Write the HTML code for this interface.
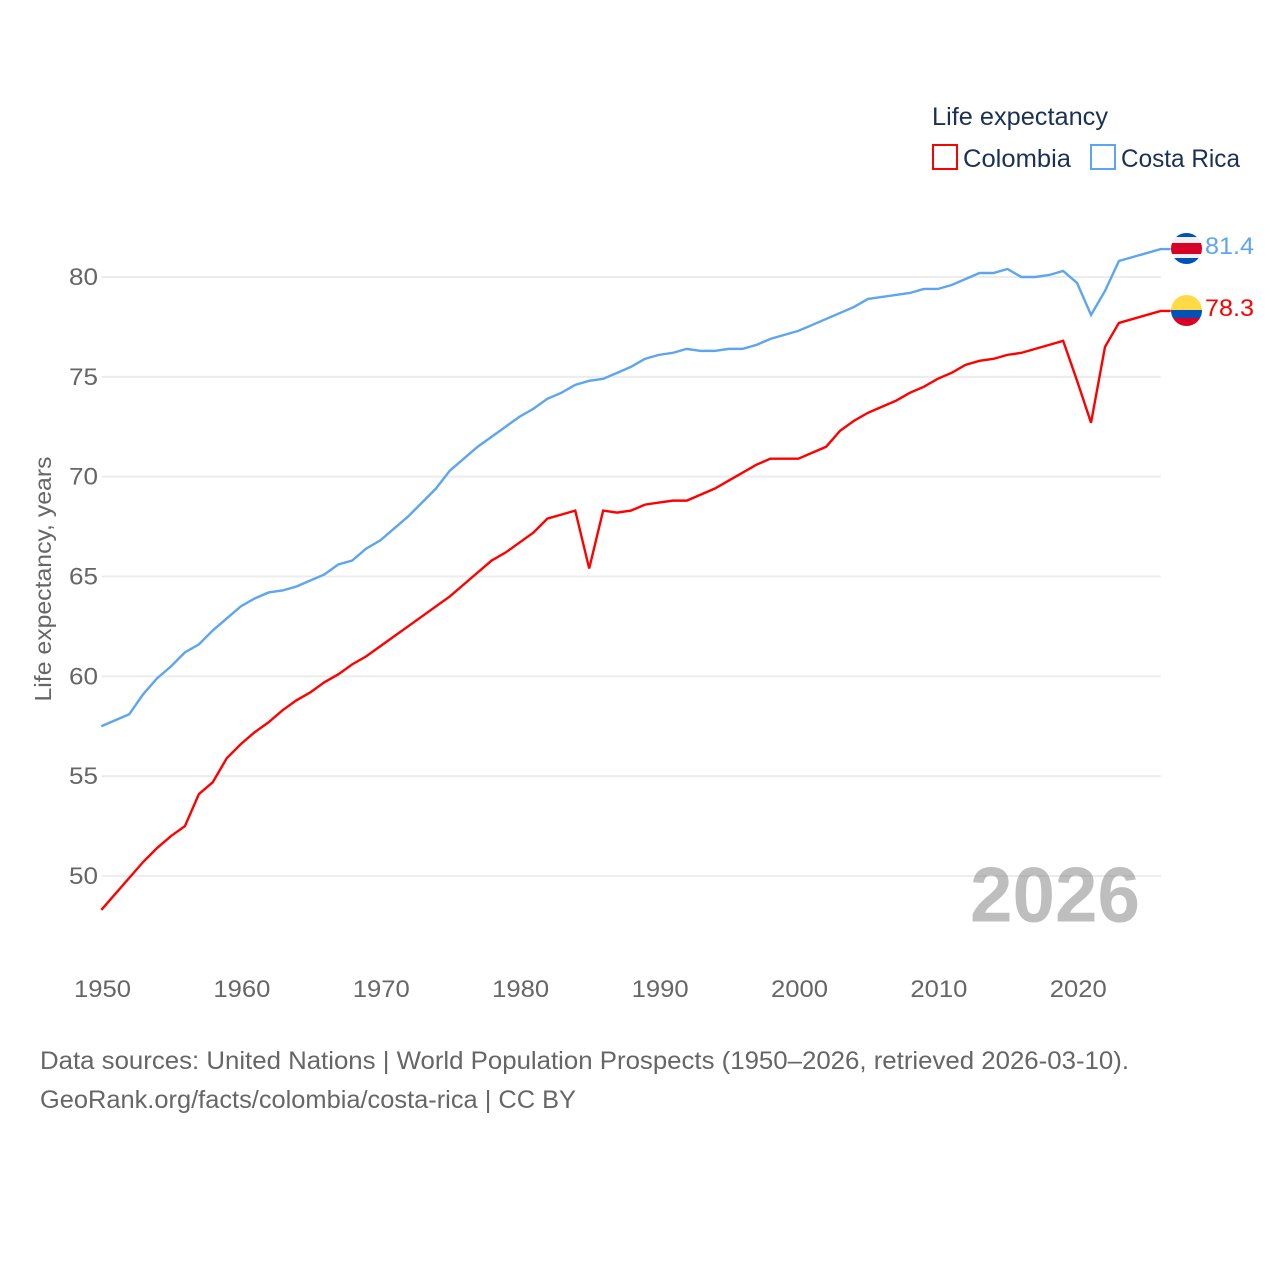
<!DOCTYPE html>
<html lang="en">
<head>
<meta charset="utf-8">
<title>Life expectancy: Colombia and Costa Rica</title>
<style>
html,body{margin:0;padding:0;background:#fff;width:1280px;height:1280px;overflow:hidden}
svg{display:block;font-family:"Liberation Sans",sans-serif}
</style>
</head>
<body>
<svg id="chart" xmlns="http://www.w3.org/2000/svg" width="1280" height="1280" viewBox="0 0 1280 1280">
  <rect width="1280" height="1280" fill="#fff"/>
  <g id="grid"></g>
  <g id="yticks"></g>
  <g id="xticks"></g>
  <text transform="translate(51,579) rotate(-90)" text-anchor="middle" font-size="23" fill="#666" textLength="245" lengthAdjust="spacingAndGlyphs">Life expectancy, years</text>
  <text x="970" y="921.5" font-size="78" font-weight="700" fill="#888" fill-opacity="0.55" textLength="170" lengthAdjust="spacingAndGlyphs">2026</text>
  <g id="series"></g>

  <g>
    <text x="932" y="125" font-size="25" fill="#1a3055" textLength="176" lengthAdjust="spacingAndGlyphs">Life expectancy</text>
    <g>
      <rect x="933" y="145" width="24" height="24" fill="#fff" stroke="#ff0000" stroke-width="2"/>
      <text x="963" y="167" font-size="25" fill="#1a3055" textLength="108" lengthAdjust="spacingAndGlyphs">Colombia</text>
    </g>
    <g>
      <rect x="1091" y="145" width="24" height="24" fill="#fff" stroke="#5da5ed" stroke-width="2"/>
      <text x="1121" y="167" font-size="25" fill="#1a3055" textLength="119" lengthAdjust="spacingAndGlyphs">Costa Rica</text>
    </g>
  </g>

  <defs>
    <clipPath id="clip-cr"><circle cx="1186.5" cy="248.5" r="15.5"/></clipPath>
    <clipPath id="clip-co"><circle cx="1186.5" cy="310.5" r="15.5"/></clipPath>
  </defs>
  <g id="flag-cr" clip-path="url(#clip-cr)">
    <rect x="1171" y="233" width="31" height="31" fill="#f0f0f0"/>
    <rect x="1171" y="233" width="31" height="4" fill="#0052b4"/>
    <rect x="1171" y="243" width="31" height="11" fill="#d80027"/>
    <rect x="1171" y="258" width="31" height="6" fill="#0052b4"/>
  </g>
  <g id="flag-co" clip-path="url(#clip-co)">
    <rect x="1171" y="295" width="31" height="16" fill="#ffda44"/>
    <rect x="1171" y="310" width="31" height="8" fill="#0052b4"/>
    <rect x="1171" y="318" width="31" height="8" fill="#d80027"/>
  </g>
  <text id="label-cr" x="1205" y="254" font-size="24" fill="#5da5ed" textLength="49" lengthAdjust="spacingAndGlyphs"></text>
  <text id="label-co" x="1205" y="316" font-size="24" fill="#ff0000" textLength="49" lengthAdjust="spacingAndGlyphs"></text>

  <text x="40" y="1069" font-size="25" fill="#666" textLength="1089" lengthAdjust="spacingAndGlyphs">Data sources: United Nations | World Population Prospects (1950–2026, retrieved 2026-03-10).</text>
  <text x="40" y="1108" font-size="25" fill="#666" textLength="536" lengthAdjust="spacingAndGlyphs">GeoRank.org/facts/colombia/costa-rica | CC BY</text>
</svg>
<script>
const startYear = 1950;
const xTickLabels = [1950,1960,1970,1980,1990,2000,2010,2020];
const yTickLabels = [50,55,60,65,70,75,80];
const colombia = [48.3,49.1,49.9,50.7,51.4,52.0,52.5,54.1,54.7,55.9,
  56.6,57.2,57.7,58.3,58.8,59.2,59.7,60.1,60.6,61.0,
  61.5,62.0,62.5,63.0,63.5,64.0,64.6,65.2,65.8,66.2,
  66.7,67.2,67.9,68.1,68.3,65.4,68.3,68.2,68.3,68.6,
  68.7,68.8,68.8,69.1,69.4,69.8,70.2,70.6,70.9,70.9,
  70.9,71.2,71.5,72.3,72.8,73.2,73.5,73.8,74.2,74.5,
  74.9,75.2,75.6,75.8,75.9,76.1,76.2,76.4,76.6,76.8,
  74.8,72.7,76.5,77.7,77.9,78.1,78.3];
const costaRica = [57.5,57.8,58.1,59.1,59.9,60.5,61.2,61.6,62.3,62.9,
  63.5,63.9,64.2,64.3,64.5,64.8,65.1,65.6,65.8,66.4,
  66.8,67.4,68.0,68.7,69.4,70.3,70.9,71.5,72.0,72.5,
  73.0,73.4,73.9,74.2,74.6,74.8,74.9,75.2,75.5,75.9,
  76.1,76.2,76.4,76.3,76.3,76.4,76.4,76.6,76.9,77.1,
  77.3,77.6,77.9,78.2,78.5,78.9,79.0,79.1,79.2,79.4,
  79.4,79.6,79.9,80.2,80.2,80.4,80.0,80.0,80.1,80.3,
  79.7,78.1,79.3,80.8,81.0,81.2,81.4];

const NS = 'http://www.w3.org/2000/svg';
function xScale(year){ return 101.3 + (year - 1950) * 13.94; }
function yScale(v){ return 277 + (80 - v) * (599 / 30); }
function make(tag, attrs, parent){
  const el = document.createElementNS(NS, tag);
  for (const k in attrs) el.setAttribute(k, attrs[k]);
  parent.appendChild(el);
  return el;
}
const plotRight = xScale(startYear + colombia.length - 1);
const gridG = document.getElementById('grid');
const yG = document.getElementById('yticks');
const xG = document.getElementById('xticks');
yTickLabels.forEach(function(v){
  const line = make('line', {x1:101.5, x2:plotRight, y1:yScale(v), y2:yScale(v), stroke:'#ececec', 'stroke-width':2}, gridG);
  
  
  const t = make('text', {x:98, y:yScale(v)+8, 'text-anchor':'end', 'font-size':24, fill:'#666', textLength:29, lengthAdjust:'spacingAndGlyphs'}, yG);
  
  
  t.textContent = v;
});
xTickLabels.forEach(function(y){
  const t = make('text', {x:xScale(y)+1.2, y:997, 'text-anchor':'middle', 'font-size':24, fill:'#666', textLength:57, lengthAdjust:'spacingAndGlyphs'}, xG);
  
  
  t.textContent = y;
});
function drawSeries(values, color, name){
  const pts = values.map(function(v, i){ return xScale(startYear + i).toFixed(2) + ',' + yScale(v).toFixed(2); });
  const last = values[values.length - 1];
  pts.push((plotRight + 10).toFixed(2) + ',' + yScale(last).toFixed(2));
  const p = make('polyline', {points:pts.join(' '), fill:'none', stroke:color, 'stroke-width':2.4, 'stroke-linejoin':'miter'}, document.getElementById('series'));
  
  
}
drawSeries(costaRica, '#5da5ed', 'costa-rica-line');
drawSeries(colombia, '#ff0000', 'colombia-line');
document.getElementById('label-cr').textContent = costaRica[costaRica.length - 1].toFixed(1);
document.getElementById('label-co').textContent = colombia[colombia.length - 1].toFixed(1);
</script>
</body>
</html>
